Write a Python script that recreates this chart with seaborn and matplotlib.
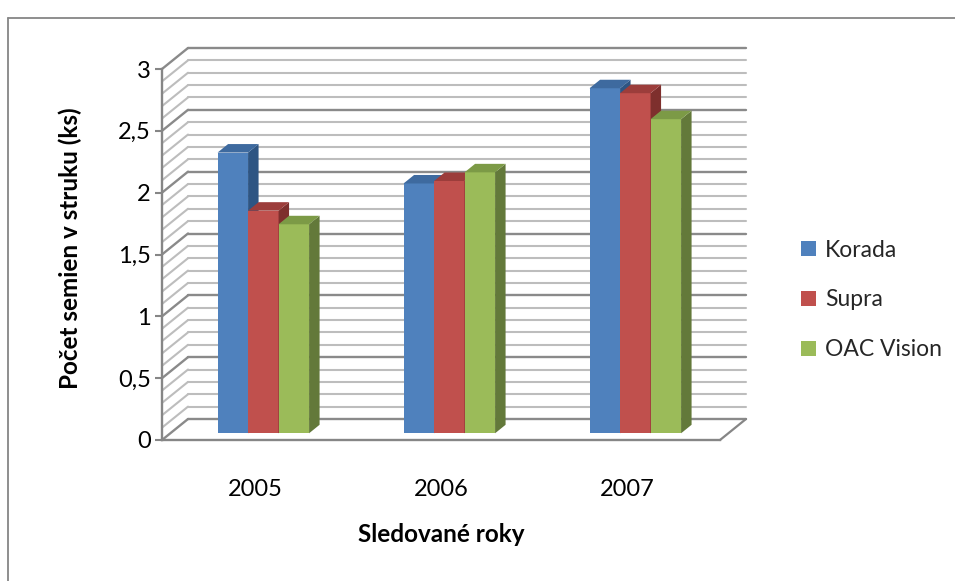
import numpy as np
import pandas as pd
import matplotlib
matplotlib.use('Agg')
import matplotlib.pyplot as plt
import matplotlib.transforms as mtransforms
from matplotlib.patches import Polygon
from matplotlib.lines import Line2D
import seaborn as sns

# data
roky = ['2005', '2006', '2007']
odrody = ['Korada', 'Supra', 'OAC Vision']
korada = [2.27, 2.02, 2.79]
supra = [1.80, 2.04, 2.75]
oac_vision = [1.69, 2.11, 2.54]
y_ticks = [0, 0.5, 1, 1.5, 2, 2.5, 3]
y_tick_labels = ['0', '0,5', '1', '1,5', '2', '2,5', '3']

# excel 2007 colours (front, side, top)
farby = ['#4F81BD', '#C0504D', '#9BBB59']
farby_bok = ['#2E5583', '#7E2F2D', '#63793A']
farby_vrch = ['#3E6A9F', '#9C3D3B', '#7C9A46']

df = pd.DataFrame({
    'rok': roky * 3,
    'odroda': np.repeat(odrody, len(roky)),
    'pocet': korada + supra + oac_vision,
})

sns.set_theme(style='white')
plt.rcParams['font.family'] = ['Lato', 'DejaVu Sans']

W, H = 955, 581
fig = plt.figure(figsize=(W / 100, H / 100), dpi=100)

# front plane of the 3d box, in pixels
x0, x1, y0, y1 = 162, 720, 440, 69
ax = fig.add_axes([x0 / W, 1 - y0 / H, (x1 - x0) / W, (y0 - y1) / H])

sns.barplot(data=df, x='rok', y='pocet', hue='odroda', palette=farby,
            saturation=1, width=0.492, linewidth=0, ax=ax)
ax.set_xlim(-0.5, 2.5)
ax.set_ylim(0, 3)

# depth of the box and of the bars (display pixels)
DX, DY = 26.0, 21.0
f_bar = 0.32
SX, SY = 10.5, 8.5

grid_major = '#8A8A8A'
grid_minor = '#BDBDBD'
osa = '#868686'

back = mtransforms.offset_copy(ax.transData, fig=fig, x=DX, y=DY, units='dots')
ident = mtransforms.IdentityTransform()

# back wall grid + left wall diagonals
for i in range(31):
    v = i / 10
    major = i % 5 == 0
    c = grid_major if major else grid_minor
    lw = 1.7 if major else 1.5
    ax.add_line(Line2D([-0.5, 2.5], [v, v], transform=back, color=c, lw=lw,
                       zorder=1, clip_on=False))
    px, py = ax.transData.transform((-0.5, v))
    ax.add_line(Line2D([px, px + DX], [py, py + DY], transform=ident,
                       color=c, lw=lw, zorder=1, clip_on=False))

# floor right edge
px, py = ax.transData.transform((2.5, 0))
ax.add_line(Line2D([px, px + DX], [py, py + DY], transform=ident,
                   color=osa, lw=1.6, zorder=1, clip_on=False))

# 3d bars: shift front faces into depth, add side and top faces
bar_tr = mtransforms.offset_copy(ax.transData, fig=fig, x=f_bar * DX, y=f_bar * DY, units='dots')
bars = []
for k, cont in enumerate(ax.containers):
    for b in cont:
        bars.append((b.get_x(), k, b))
bars.sort(key=lambda t: t[0])
s = np.array([SX, SY])
for i, (_, k, b) in enumerate(bars):
    z = 3 + i * 0.01
    b.set_transform(bar_tr)
    b.set_zorder(z)
    b.set_clip_on(False)
    xb, wb, hb = b.get_x(), b.get_width(), b.get_height()
    br = bar_tr.transform((xb + wb, 0))
    tr = bar_tr.transform((xb + wb, hb))
    tl = bar_tr.transform((xb, hb))
    ax.add_patch(Polygon([br, tr, tr + s, br + s], closed=True, transform=ident,
                         facecolor=farby_bok[k], edgecolor='none', zorder=z, clip_on=False))
    ax.add_patch(Polygon([tl, tr, tr + s, tl + s], closed=True, transform=ident,
                         facecolor=farby_vrch[k], edgecolor='none', zorder=z, clip_on=False))

# axes styling
for sp in ['top', 'right']:
    ax.spines[sp].set_visible(False)
for sp in ['left', 'bottom']:
    ax.spines[sp].set_color(osa)
    ax.spines[sp].set_linewidth(1.7)
    ax.spines[sp].set_zorder(2)

ax.set_yticks(y_ticks)
ax.set_yticklabels(y_tick_labels)
ax.tick_params(axis='y', direction='out', length=5, width=1.5, color=osa,
               pad=3, labelsize=17, labelcolor='black', left=True)
ax.tick_params(axis='x', length=0, pad=28, labelsize=17, labelcolor='black')

ax.set_xlabel('Sledované roky', fontsize=17.5, fontweight='bold', color='black')
ax.set_ylabel('Počet semien v struku (ks)', fontsize=17.5, fontweight='bold', color='black')
ax.xaxis.set_label_coords((441 - x0) / (x1 - x0), (y0 - 535) / (y0 - y1))
ax.xaxis.label.set_va('center')
ax.yaxis.set_label_coords((70 - x0) / (x1 - x0), (y0 - 248) / (y0 - y1))
ax.yaxis.label.set_va('center')

handles, labels = ax.get_legend_handles_labels()
ax.legend(handles, labels, loc='center left',
          bbox_to_anchor=(801 / W, 1 - 300 / H), bbox_transform=fig.transFigure,
          frameon=False, fontsize=16.5, handlelength=0.65, handleheight=0.62,
          handletextpad=0.4, labelspacing=1.25, borderaxespad=0, borderpad=0)

# chart area border
fig.add_artist(Line2D([8 / W, 8 / W], [0, 1 - 18 / H], transform=fig.transFigure,
                      color=osa, lw=1.3))
fig.add_artist(Line2D([8 / W, 1], [1 - 18 / H, 1 - 18 / H], transform=fig.transFigure,
                      color=osa, lw=1.3))

fig.savefig('out.png', dpi=100)
